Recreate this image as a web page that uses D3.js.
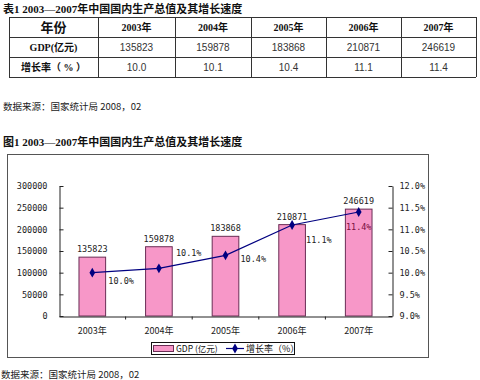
<!DOCTYPE html>
<html><head><meta charset="utf-8">
<script src="https://cdn.jsdelivr.net/npm/d3@7"></script>
<style>
html,body{margin:0;padding:0;background:#fff;}
svg{display:block;}
</style></head>
<body>
<svg id="c" width="480" height="380"></svg>
<script>
// ---- data ----
const years = ["2003年","2004年","2005年","2006年","2007年"];
const gdp = [135823,159878,183868,210871,246619];
const growth = [10.0,10.1,10.4,11.1,11.4];
const gdpTicks = [0,50000,100000,150000,200000,250000,300000];
const rateTicks = [9.0,9.5,10.0,10.5,11.0,11.5,12.0];
const tableTitle = "表1 2003—2007年中国国内生产总值及其增长速度";
const chartTitle = "图1 2003—2007年中国国内生产总值及其增长速度";
const source = "数据来源：国家统计局 2008，02";
const rowHeads = ["年份","GDP(亿元)","增长率（ % ）"];
const seriesNames = ["GDP (亿元)","增长率（%）"];

// ---- layout/style ----
const CJK = "'Noto Sans CJK SC', sans-serif";
const SERIF = "'Liberation Serif', 'Noto Sans CJK SC', serif";
const MONO = "'DejaVu Sans Mono', monospace";
const PINK = "#f797c8", PINK_STROKE = "#6a2d55", NAVY = "#000080";
const svg = d3.select("#c");

// ---- table ----
svg.append("text").attr("x",3).attr("y",13).attr("font-family",SERIF)
  .attr("font-weight","bold").attr("font-size",11).attr("fill","#111").text(tableTitle);

const colX = d3.scaleBand().domain(["head"].concat(years)).range([98,476]);
const colEdges = [9,98,175,251,326,401,476];
const rowEdges = [17,37,57,77];
const tg = svg.append("g");
tg.selectAll("line.v").data(colEdges).join("line")
  .attr("x1",d=>d).attr("x2",d=>d).attr("y1",17).attr("y2",77)
  .attr("stroke","#333").attr("stroke-width",1).attr("shape-rendering","crispEdges");
tg.selectAll("line.h").data(rowEdges).join("line")
  .attr("x1",9).attr("x2",476).attr("y1",d=>d+0.5).attr("y2",d=>d+0.5)
  .attr("stroke","#333").attr("stroke-width",1).attr("shape-rendering","crispEdges");
const colCenters = years.map((d,i)=>(colEdges[i+1]+colEdges[i+2])/2);
const rowCenters = [27,47,67];
// row heads
tg.selectAll("text.rh").data(rowHeads).join("text")
  .attr("x",53.5).attr("y",(d,i)=>rowCenters[i]).attr("dy","0.36em")
  .attr("text-anchor","middle").attr("font-family",SERIF).attr("font-weight","bold")
  .attr("font-size",(d,i)=>i===0?13:10).attr("fill","#111").text(d=>d);
tg.selectAll("text.yr").data(years).join("text")
  .attr("x",(d,i)=>colCenters[i]).attr("y",27).attr("dy","0.36em")
  .attr("text-anchor","middle").attr("font-family",SERIF).attr("font-weight","bold")
  .attr("font-size",10).attr("fill","#111").text(d=>d);
tg.selectAll("text.gv").data(gdp).join("text")
  .attr("x",(d,i)=>colCenters[i]).attr("y",47).attr("dy","0.36em")
  .attr("text-anchor","middle").attr("font-family","'Liberation Sans', sans-serif")
  .attr("font-size",10).attr("fill","#333").text(d=>d);
tg.selectAll("text.rv").data(growth).join("text")
  .attr("x",(d,i)=>colCenters[i]).attr("y",67).attr("dy","0.36em")
  .attr("text-anchor","middle").attr("font-family","'Liberation Sans', sans-serif")
  .attr("font-size",10).attr("fill","#333").text(d=>d3.format(".1f")(d));

svg.append("text").attr("x",3).attr("y",107).attr("dy","0.36em").attr("font-family",CJK)
  .attr("font-size",9.5).attr("fill","#222").text(source);

// ---- chart ----
svg.append("text").attr("x",3).attr("y",142).attr("dy","0.36em").attr("font-family",SERIF)
  .attr("font-weight","bold").attr("font-size",11).attr("fill","#111").text(chartTitle);

svg.append("rect").attr("x",7.5).attr("y",154.5).attr("width",421).attr("height",203)
  .attr("fill","#fff").attr("stroke","#555").attr("stroke-width",1);

const x = d3.scaleBand().domain(years).range([59,392]).paddingInner(0.6).paddingOuter(0.3);
const yL = d3.scaleLinear().domain([0,300000]).range([316,186]);
const yR = d3.scaleLinear().domain([9,12]).range([316,186]);
const cx = d => x(d) + x.bandwidth()/2;

// bars
svg.append("g").selectAll("rect").data(gdp).join("rect")
  .attr("x",(d,i)=>x(years[i])).attr("y",d=>yL(d))
  .attr("width",x.bandwidth()).attr("height",d=>yL(0)-yL(d))
  .attr("fill",PINK).attr("stroke",PINK_STROKE).attr("stroke-width",1);

// axes
const axL = svg.append("g").attr("transform","translate(59.5,0)")
  .call(d3.axisLeft(yL).tickValues(gdpTicks).tickSizeInner(-3).tickSizeOuter(0).tickPadding(12).tickFormat(d3.format("d")));
const axR = svg.append("g").attr("transform","translate(392.5,0)")
  .call(d3.axisRight(yR).tickValues(rateTicks).tickSizeInner(-3).tickSizeOuter(0).tickPadding(7).tickFormat(d=>d3.format(".1f")(d)+"%"));
[axL,axR].forEach(a=>{
  a.select(".domain").attr("stroke","#222");
  a.selectAll(".tick line").attr("stroke","#222");
  a.selectAll("text").attr("font-family",MONO).attr("font-size",8.5).attr("fill","#222");
});
axL.selectAll(".tick line").attr("x2",4);
axR.selectAll(".tick line").attr("x2",-4);

const axB = svg.append("g").attr("transform","translate(0,316.5)")
  .call(d3.axisBottom(x).tickSize(0).tickPadding(11));
axB.select(".domain").attr("stroke","#222");
axB.selectAll("text").attr("font-family",CJK).attr("font-size",9).attr("fill","#222");
const boundaries = years.slice(1).map(d => x(d) - x.step()*x.paddingInner()/2);
axB.selectAll("line.bt").data(boundaries).join("line")
  .attr("x1",d=>d).attr("x2",d=>d).attr("y1",0).attr("y2",3).attr("stroke","#222");

// bar value labels
svg.append("g").selectAll("text").data(gdp).join("text")
  .attr("x",(d,i)=>cx(years[i])).attr("y",d=>yL(d)-8).attr("dy","0.36em")
  .attr("text-anchor","middle").attr("font-family",MONO).attr("font-size",8.5).attr("fill","#222")
  .text(d=>d);

// line
const line = d3.line().x((d,i)=>cx(years[i])).y(d=>yR(d));
svg.append("path").datum(growth).attr("d",line).attr("fill","none")
  .attr("stroke",NAVY).attr("stroke-width",1.2);
svg.append("g").selectAll("path").data(growth).join("path")
  .attr("transform",(d,i)=>`translate(${cx(years[i])},${yR(d)})`)
  .attr("d",d3.symbol(d3.symbolDiamond,28)).attr("fill",NAVY);

// growth labels (placement offsets)
const labOff = [[16,8,"start"],[17,-15,"start"],[15,4,"start"],[14,15,"start"],[0,15,"middle"]];
svg.append("g").selectAll("text").data(growth).join("text")
  .attr("x",(d,i)=>cx(years[i])+labOff[i][0]).attr("y",(d,i)=>yR(d)+labOff[i][1]).attr("dy","0.36em")
  .attr("text-anchor",(d,i)=>labOff[i][2]).attr("font-family",MONO).attr("font-size",8.5)
  .attr("fill",(d,i)=>i===4?"#7a1040":"#222")
  .text(d=>d3.format(".1f")(d)+"%");

// legend
const lg = svg.append("g");
lg.append("rect").attr("x",151.5).attr("y",342.5).attr("width",143).attr("height",12)
  .attr("fill","#fff").attr("stroke","#111");
lg.append("rect").attr("x",153.5).attr("y",345.5).attr("width",20).attr("height",6)
  .attr("fill",PINK).attr("stroke",PINK_STROKE);
lg.append("text").attr("x",176).attr("y",349).attr("dy","0.36em").attr("font-family",CJK)
  .attr("font-size",8.5).attr("fill","#111").text(seriesNames[0]);
lg.append("line").attr("x1",226).attr("x2",244).attr("y1",348.5).attr("y2",348.5)
  .attr("stroke",NAVY).attr("stroke-width",1.2);
lg.append("path").attr("transform","translate(235,348.5)").attr("d",d3.symbol(d3.symbolDiamond,28)).attr("fill",NAVY);
lg.append("text").attr("x",246).attr("y",349).attr("dy","0.36em").attr("font-family",CJK)
  .attr("font-size",9).attr("fill","#111").text(seriesNames[1]);

svg.append("text").attr("x",1).attr("y",375).attr("dy","0.36em").attr("font-family",CJK)
  .attr("font-size",9.5).attr("fill","#222").text(source);
</script>
</body></html>
